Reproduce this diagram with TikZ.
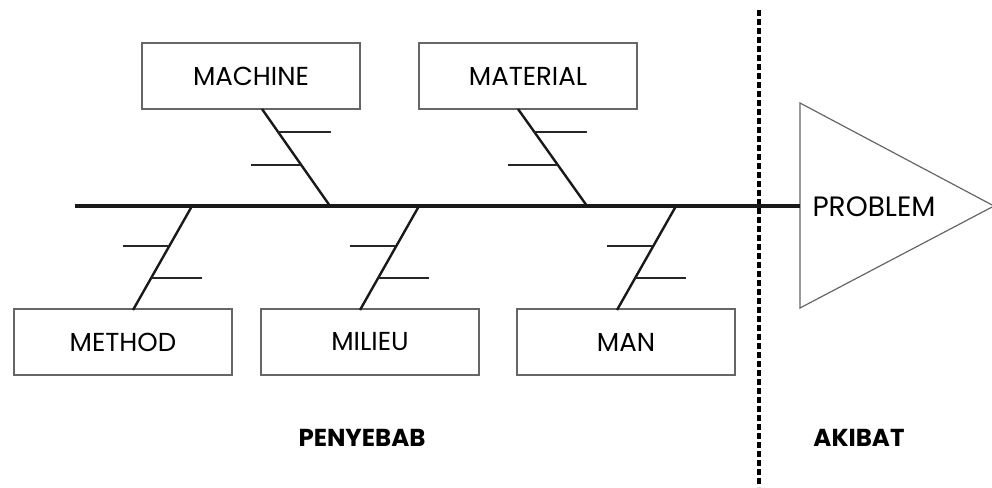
\documentclass[tikz,border=0pt]{standalone}
\usepackage{fontspec}
\setmainfont{Poppins}
\usetikzlibrary{calc}
\tikzset{
  catbox/.style={draw=black!60, line width=1.4pt, fill=white, minimum width=218pt, minimum height=66pt, inner sep=0pt, font=\fontsize{26}{30}\selectfont},
  spineline/.style={line width=3.4pt, black!90},
  boneline/.style={line width=2.4pt, black!90},
  ribline/.style={line width=2.2pt, black!85},
  divider/.style={line width=3.2pt, dash pattern=on 6pt off 3pt},
  headlbl/.style={font=\fontsize{24.5}{28}\selectfont\bfseries},
}
\begin{document}
\begin{tikzpicture}[x=1pt,y=-1pt]
\useasboundingbox (0,0) rectangle (992,487);
% divider
\coordinate (dtop) at (759,10);
\coordinate (dbot) at (759,487);
\draw[divider] (dtop) -- (dbot);
% head triangle
\coordinate (t1) at (800,103);
\coordinate (t2) at (800,308);
\coordinate (t3) at (994,206);
\draw[black!60, line width=1.2pt] (t1) -- (t3) -- (t2) -- cycle;
\node (prob) at (874,207) {\fontsize{28}{32}\selectfont PROBLEM};
% spine
\coordinate (tail) at (75,206);
\coordinate (headl) at (800,206);
\draw[spineline] (tail) -- (headl);
% boxes
\node[catbox] (mach) at (251,76) {MACHINE};
\node[catbox] (mate) at (528,76) {MATERIAL};
\node[catbox] (meth) at (123,342) {METHOD};
\node[catbox] (mili) at (370,342) {MILIEU};
\node[catbox] (man)  at (626,342) {MAN};
% spine joints
\coordinate (s1) at (330,206);
\coordinate (s2) at (587,206);
\coordinate (s3) at (192,206);
\coordinate (s4) at (419,206);
\coordinate (s5) at (676,206);
% bone ends at boxes
\coordinate (b1) at (262,109);
\coordinate (b2) at (518,109);
\coordinate (b3) at (133,310);
\coordinate (b4) at (360,310);
\coordinate (b5) at (617,310);
% top bones
\foreach \b/\s in {b1/s1, b2/s2}{
  \draw[boneline] (\b) -- (\s);
  \draw[ribline] ($(\b)!0.237!(\s)$) -- ++(53,0);
  \draw[ribline] ($(\b)!0.577!(\s)$) -- ++(-50,0);
}
% bottom bones
\foreach \b/\s in {b3/s3, b4/s4, b5/s5}{
  \draw[boneline] (\s) -- (\b);
  \draw[ribline] ($(\s)!0.385!(\b)$) -- ++(-46,0);
  \draw[ribline] ($(\s)!0.69!(\b)$) -- ++(51,0);
}
% section labels
\node[headlbl] (cause) at (362,438) {PENYEBAB};
\node[headlbl] (effect) at (859,438) {AKIBAT};
\end{tikzpicture}
\end{document}
